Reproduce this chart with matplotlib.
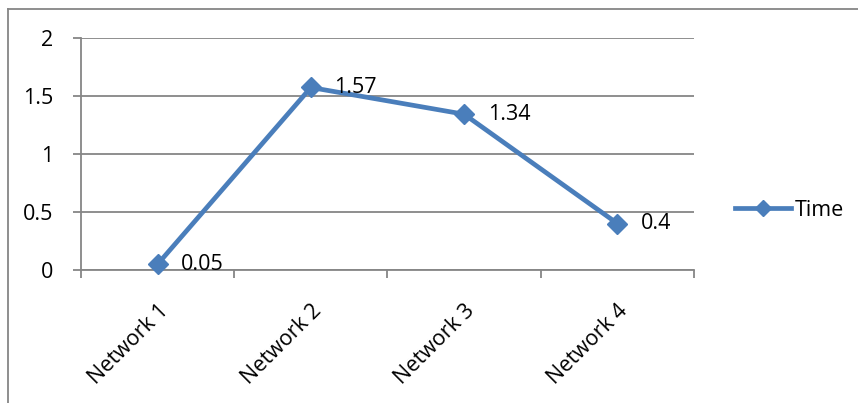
import matplotlib
matplotlib.use("Agg")
import matplotlib.pyplot as plt
from matplotlib.lines import Line2D

categories = ["Network 1", "Network 2", "Network 3", "Network 4"]
values = [0.05, 1.57, 1.34, 0.4]
value_labels = ["0.05", "1.57", "1.34", "0.4"]
series_name = "Time"
yticks = [0, 0.5, 1, 1.5, 2]
ytick_labels = ["0", "0.5", "1", "1.5", "2"]

plt.rcParams['font.family'] = ['Open Sans', 'DejaVu Sans']
W, H = 858, 403
fig = plt.figure(figsize=(W/100, H/100), dpi=100)
ax = fig.add_axes([81/W, 1-270/H, (694-81)/W, (270-37.5)/H])

FS = 15.5
color = "#4A7EBB"
grid = "#868686"
x = list(range(len(categories)))
ax.plot(x, values, color=color, lw=3.4, marker="D", ms=10, mfc=color, mec=color, zorder=3,
        clip_on=False)
for xi, v, lab in zip(x, values, value_labels):
    ax.annotate(lab, (xi, v), xytext=(17, 0), textcoords="offset points", ha="left", va="center",
                fontsize=FS, color="black")

ax.set_xlim(-0.5, len(categories)-0.5)
ax.set_ylim(0, 2)
ax.set_yticks(yticks)
ax.set_yticklabels(ytick_labels, fontsize=FS)
ax.yaxis.grid(True, color=grid, lw=1.3)
ax.set_axisbelow(True)
ax.set_xticks(x)
ax.set_xticklabels(categories, rotation=45, ha="right", rotation_mode="anchor", fontsize=FS)
ax.tick_params(axis="x", length=0, pad=22)
ax.set_xticks([i - 0.5 for i in range(len(categories)+1)], minor=True)
ax.tick_params(axis="x", which="minor", length=6, color=grid, width=1.3)
ax.tick_params(axis="y", length=6, color=grid, width=1.3, pad=14)
for s in ["top", "right"]:
    ax.spines[s].set_visible(False)
for s in ["left", "bottom"]:
    ax.spines[s].set_color(grid)
    ax.spines[s].set_linewidth(1.3)

handle = Line2D([0], [0], color=color, lw=3.4, marker="D", ms=8, mfc=color, mec=color)
fig.legend([handle], [series_name], loc="center left", bbox_to_anchor=(716/W, 1-210/H),
           frameon=False, fontsize=FS, handlelength=2.6, handletextpad=0.15)

# outer chart frame (top and left visible)
fig.add_artist(Line2D([8/W, 1], [1-9/H, 1-9/H], color=grid, lw=1.3, transform=fig.transFigure))
fig.add_artist(Line2D([8/W, 8/W], [0, 1-9/H], color=grid, lw=1.3, transform=fig.transFigure))

fig.savefig("out.png", dpi=100)
